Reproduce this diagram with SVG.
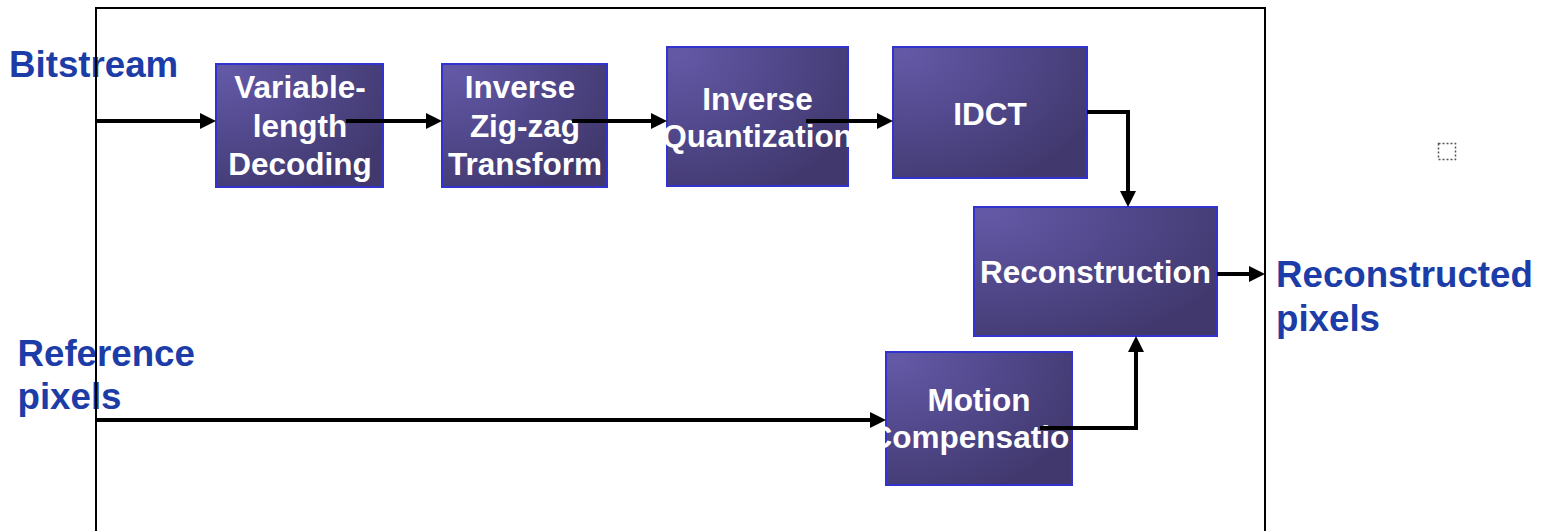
<svg xmlns="http://www.w3.org/2000/svg" width="1543" height="531" viewBox="0 0 1543 531">
<defs>
<radialGradient id="bg" cx="0.05" cy="0.05" r="1.1" fx="0.05" fy="0.05">
<stop offset="0" stop-color="#6459a6"/>
<stop offset="0.45" stop-color="#534a8f"/>
<stop offset="1" stop-color="#41396e"/>
</radialGradient>
<marker id="ah" viewBox="0 0 16 16" markerWidth="16" markerHeight="16" refX="4" refY="8" orient="auto" markerUnits="userSpaceOnUse">
<path d="M0,0 L16,8 L0,16 z" fill="#000"/>
</marker>
<clipPath id="mcclip"><rect x="881" y="340" width="189" height="150"/></clipPath>
</defs>
<style>
.box{fill:url(#bg);stroke:#3232cf;stroke-width:2}
.bt{font-family:"Liberation Sans",Arial,sans-serif;font-weight:bold;font-size:31.5px;fill:#fff;text-anchor:middle}
.lbl{font-family:"Liberation Sans",Arial,sans-serif;font-weight:bold;font-size:36.7px;fill:#1c3ca8}
.conn{fill:none;stroke:#000;stroke-width:4;stroke-linejoin:miter;marker-end:url(#ah)}
</style>
<rect width="1543" height="531" fill="#fff"/>
<g id="labels">
<text class="lbl" x="9" y="77">Bitstream</text>
<text class="lbl" x="17.5" y="366">Reference</text>
<text class="lbl" x="17.5" y="409">pixels</text>
<text class="lbl" x="1276" y="287">Reconstructed</text>
<text class="lbl" x="1276" y="331">pixels</text>
</g>
<rect id="frame" x="96" y="8" width="1169" height="600" fill="none" stroke="#000" stroke-width="2"/>
<g id="vld">
<rect class="box" x="216" y="64" width="167" height="123"/>
<text class="bt" x="300" y="98">Variable-</text>
<text class="bt" x="300" y="137">length</text>
<text class="bt" x="300" y="175">Decoding</text>
</g>
<g id="izz">
<rect class="box" x="442" y="64" width="165" height="123"/>
<text class="bt" x="520" y="98">Inverse</text>
<text class="bt" x="525" y="137">Zig-zag</text>
<text class="bt" x="525" y="175">Transform</text>
</g>
<g id="iq">
<rect class="box" x="667" y="47" width="181" height="139"/>
<text class="bt" x="757.5" y="110">Inverse</text>
<text class="bt" x="757.5" y="147">Quantization</text>
</g>
<g id="idct">
<rect class="box" x="893" y="47" width="194" height="131"/>
<text class="bt" x="990" y="125">IDCT</text>
</g>
<g id="recon">
<rect class="box" x="974" y="207" width="243" height="129"/>
<text class="bt" x="1095.5" y="283">Reconstruction</text>
</g>
<g id="mc">
<rect class="box" x="886" y="352" width="186" height="133"/>
<text class="bt" x="979" y="411">Motion</text>
<text class="bt" x="979" y="448" clip-path="url(#mcclip)">Compensation</text>
</g>
<g id="connectors">
<path class="conn" d="M96,121 H204"/>
<path class="conn" d="M346,121 H430"/>
<path class="conn" d="M572,121 H655"/>
<path class="conn" d="M806,121 H881"/>
<path class="conn" d="M1087,112 H1128 V195"/>
<path class="conn" d="M1217,274 H1253"/>
<path class="conn" d="M96,420 H874"/>
<path class="conn" d="M1040,428 H1136 V348"/>
</g>
<rect id="placeholder" x="1438.5" y="143.5" width="17" height="16" fill="none" stroke="#555" stroke-width="1.5" stroke-dasharray="2,2"/>
</svg>
